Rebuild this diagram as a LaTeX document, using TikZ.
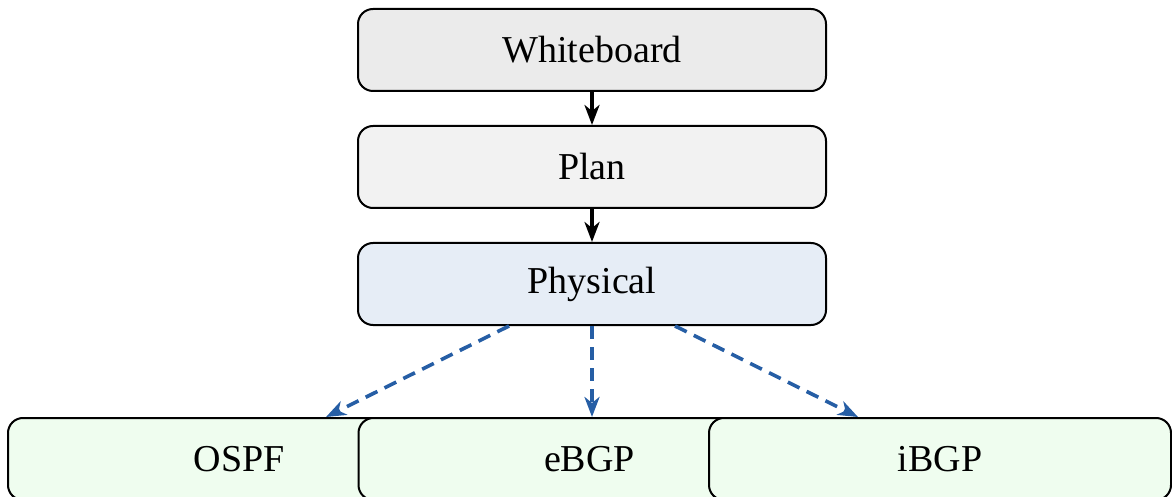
\documentclass[tikz,border=0pt]{standalone}
\usepackage{fontspec}
\setmainfont{Liberation Serif}
\usetikzlibrary{arrows.meta,calc}

\definecolor{boardfill}{RGB}{235,235,235}
\definecolor{planfill}{RGB}{242,242,242}
\definecolor{physfill}{RGB}{230,237,246}
\definecolor{protofill}{RGB}{239,253,239}
\definecolor{linkblue}{RGB}{38,94,165}

\tikzset{
  stage/.style={draw=black, line width=1pt, rounded corners=7.5pt,
    minimum width=234pt, minimum height=41pt, inner sep=0pt,
    font=\fontsize{19pt}{22pt}\selectfont},
  flow/.style={line width=1.7pt, -{Stealth[length=10pt,width=7.5pt,inset=3pt]}},
  derive/.style={line width=1.8pt, draw=linkblue, dash pattern=on 6.5pt off 4pt,
    -{Stealth[length=10pt,width=7.5pt,inset=3pt,fill=linkblue]}}
}

\begin{document}
\begin{tikzpicture}[x=0.5pt,y=-0.5pt]
  \useasboundingbox (0,0) rectangle (1172,497);
  \clip (0,0) rectangle (1172,497);

  % main pipeline
  \node[stage, fill=boardfill] (whiteboard) at (592,50)  {Whiteboard};
  \node[stage, fill=planfill]  (plan)       at (592,167) {Plan};
  \node[stage, fill=physfill]  (physical)   at (592,284) {Physical};

  % routing layers, overlapping left to right
  \node[stage, fill=protofill, minimum width=231pt] (ospf) at (239,459) {OSPF};
  \node[stage, fill=protofill, minimum width=231pt] (ebgp) at (589.5,459) {eBGP};
  \node[stage, fill=protofill, minimum width=231pt] (ibgp) at (940,459)   {iBGP};

  \draw[flow] (whiteboard) -- (plan);
  \draw[flow] (plan) -- (physical);

  \coordinate (outL) at ($(physical.south)+(-83,0)$);
  \coordinate (outR) at ($(physical.south)+(83,0)$);
  \coordinate (inL)  at ($(ospf.north)+(87,0)$);
  \coordinate (inR)  at ($(ibgp.north)+(-82,0)$);

  \draw[derive] (outL) -- (inL);
  \draw[derive] (physical.south) -- (physical.south |- ebgp.north);
  \draw[derive] (outR) -- (inR);
\end{tikzpicture}
\end{document}
